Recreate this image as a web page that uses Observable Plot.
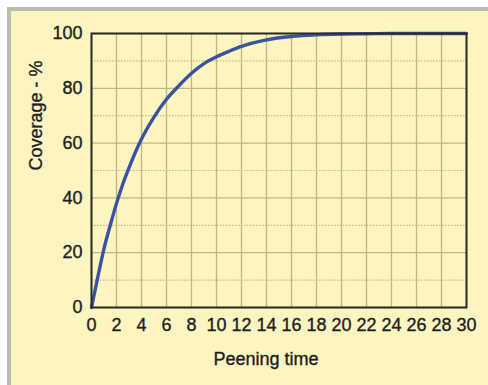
<!DOCTYPE html>
<html>
<head>
<meta charset="utf-8">
<script src="https://cdn.jsdelivr.net/npm/d3@7"></script>
<script src="https://cdn.jsdelivr.net/npm/@observablehq/plot@0.6"></script>
<style>
  html, body { margin: 0; padding: 0; background: #ffffff; width: 488px; height: 385px; overflow: hidden; }
  #panel { position: absolute; left: 7px; top: 7px; right: 0; bottom: 0; background: #fcf5c1;
           border-top: 4px solid #bdbab0; border-left: 4px solid #bdbab0; }
  #chart { position: absolute; left: 0; top: 0; }
  #chart svg { background: transparent; }
  #chart svg text { stroke: #1e1e1e; stroke-width: 0.35px; }
</style>
</head>
<body>
<div id="panel"></div>
<div id="chart"></div>
<script>
// Data
const time     = [0, 0.5, 1, 1.5, 2, 2.5, 3, 4, 5, 6, 7, 8, 9, 10, 11, 12, 13, 14, 16, 18, 20, 22, 24, 26, 28, 30];
const coverage = [0, 11, 21.5, 30, 38, 45, 51, 61.5, 69.5, 76, 81, 85.5, 89, 91.5, 93.5, 95.3, 96.7, 97.7, 98.9, 99.5, 99.8, 99.9, 100, 100, 100, 100];
const xTicks = [0, 2, 4, 6, 8, 10, 12, 14, 16, 18, 20, 22, 24, 26, 28, 30];
const yTicks = [0, 20, 40, 60, 80, 100];
const yMinor = [10, 30, 50, 70, 90];
const xTitle = "Peening time";
const yTitle = "Coverage - %";

const data = time.map((t, i) => ({t, c: coverage[i]}));

const gridColor = "#c2b680";

const plot = Plot.plot({
  width: 488,
  height: 385,
  marginLeft: 91,
  marginRight: 22,
  marginTop: 33,
  marginBottom: 78,
  style: {background: "transparent", fontFamily: "'Liberation Sans', Arial, sans-serif", fontSize: "18px", color: "#1e1e1e"},
  x: {domain: [0, 30]},
  y: {domain: [0, 100]},
  marks: [
    Plot.ruleY(yMinor, {stroke: gridColor, strokeWidth: 1.2, strokeDasharray: "1.5,1.5"}),
    Plot.ruleY(yTicks, {stroke: gridColor, strokeWidth: 1.3}),
    Plot.ruleX(xTicks, {stroke: gridColor, strokeWidth: 1.3}),
    Plot.line(data, {x: "t", y: "c", stroke: "#3a52a0", strokeWidth: 3.4, curve: "monotone-x"}),
    Plot.frame({stroke: "#2b2b2b", strokeWidth: 2}),
    Plot.axisX({ticks: xTicks, tickSize: 0, tickPadding: 11, label: null, fontSize: 18, tickFormat: d => String(d)}),
    Plot.axisY({ticks: yTicks, tickSize: 0, tickPadding: 9, label: null, fontSize: 18, tickFormat: d => String(d)}),
    Plot.text([xTitle], {frameAnchor: "bottom", dy: 57, dx: -13, fontSize: 18, fill: "#1e1e1e"}),
    Plot.text([yTitle], {frameAnchor: "left", dx: -55, rotate: -90, fontSize: 18, fill: "#1e1e1e"})
  ]
});
document.getElementById("chart").appendChild(plot);
</script>
</body>
</html>
